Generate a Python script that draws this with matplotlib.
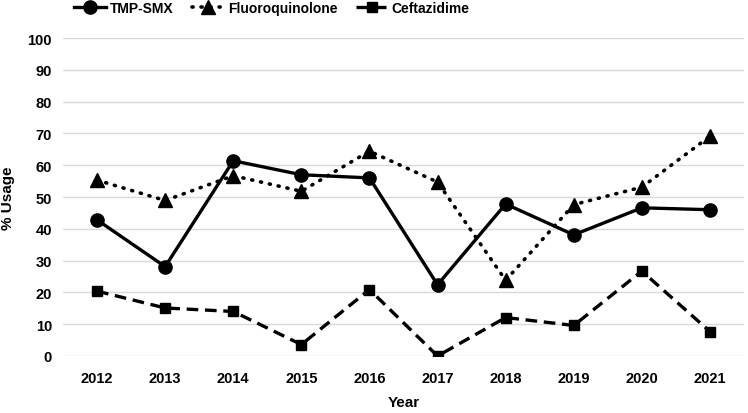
import matplotlib.pyplot as plt

# --- data ---
years = ["2012", "2013", "2014", "2015", "2016", "2017", "2018", "2019", "2020", "2021"]
tmp_smx = [42.8, 28.1, 61.4, 57.0, 56.0, 22.4, 47.8, 38.1, 46.6, 46.0]
fluoroquinolone = [55.3, 48.9, 56.7, 51.8, 64.4, 54.7, 23.8, 47.6, 53.1, 69.1]
ceftazidime = [20.4, 15.1, 14.0, 3.6, 20.9, 0.0, 12.1, 9.6, 26.7, 7.7]

plt.rcParams['font.family'] = ['Liberation Sans', 'DejaVu Sans']
plt.rcParams['font.weight'] = 'bold'

fig = plt.figure(figsize=(7.48, 4.14), dpi=100)
ax = fig.add_axes([63 / 748, 1 - 357 / 414, (744 - 63) / 748, (357 - 39) / 414])

x = list(range(len(years)))
ax.plot(x, tmp_smx, color='black', lw=2.4, marker='o', ms=9.5, label='TMP-SMX')
ax.plot(x, fluoroquinolone, color='black', lw=2.6, linestyle=(0, (0.3, 2.2)),
        dash_capstyle='round', marker='^', ms=10.5, label='Fluoroquinolone')
ax.plot(x, ceftazidime, color='black', lw=2.4, linestyle=(0, (3.5, 2)),
        marker='s', ms=7, label='Ceftazidime')

ax.set_xlim(-0.5, len(years) - 0.5)
ax.set_ylim(0, 100)
ax.set_yticks(range(0, 101, 10))
ax.set_xticks(x)
ax.set_xticklabels(years)
ax.tick_params(length=0, labelsize=10.5)
ax.tick_params(axis='x', pad=11)
ax.tick_params(axis='y', pad=8)
ax.grid(axis='y', color='#d9d9d9', lw=1)
ax.set_axisbelow(True)
for s in ax.spines.values():
    s.set_visible(False)

ax.set_xlabel('Year', fontsize=11, fontweight='bold', labelpad=7)
ax.set_ylabel('% Usage', fontsize=11, fontweight='bold', labelpad=9)

fig.legend(loc='upper center', bbox_to_anchor=(272 / 748, 1.025), ncol=3, frameon=False,
           handlelength=2.3, columnspacing=1.3, handletextpad=0.3,
           prop={'weight': 'bold', 'size': 10})

fig.savefig('out.png', dpi=100)
